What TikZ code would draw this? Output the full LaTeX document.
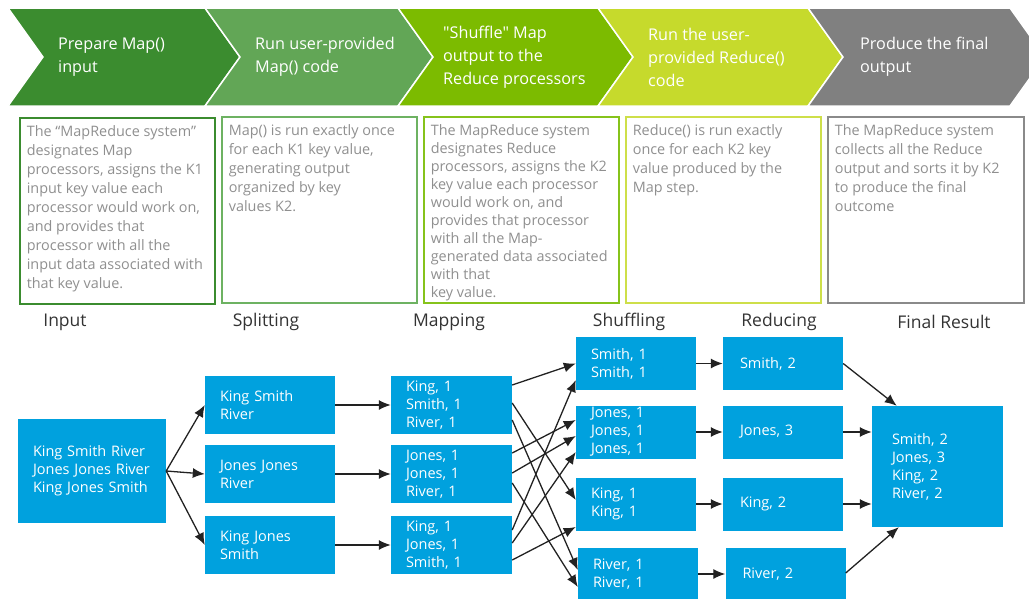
\documentclass[tikz,border=0pt]{standalone}
\usepackage{fontspec}
\setmainfont{Open Sans}[Ligatures=TeXOff]
\usepackage{tikz}
\usetikzlibrary{positioning,arrows.meta}

\definecolor{chevA}{HTML}{3B8C2F}
\definecolor{chevB}{HTML}{62A656}
\definecolor{chevC}{HTML}{7CBB00}
\definecolor{chevD}{HTML}{C6DA2C}
\definecolor{chevE}{HTML}{808080}
\definecolor{boxA}{HTML}{3B8C2F}
\definecolor{boxB}{HTML}{6DB262}
\definecolor{boxC}{HTML}{86C31B}
\definecolor{boxD}{HTML}{CEDF4A}
\definecolor{boxE}{HTML}{8A8A8A}
\definecolor{flowblue}{HTML}{00A1DE}
\definecolor{greytext}{HTML}{8F8F8F}
\definecolor{labeltext}{HTML}{333333}
\definecolor{arrowcol}{HTML}{222222}

\begin{document}
\begin{tikzpicture}[x=1pt,y=-1pt,>={Latex[length=12pt,width=10pt]},on grid,
  chev/.style={draw=white,line width=1.5pt},
  chevtext/.style={anchor=west,align=left,inner sep=0pt,text=white,font=\fontsize{16.2}{23}\selectfont},
  desc/.style={anchor=north west,line width=1.6pt,inner xsep=7pt,inner ysep=8pt,text=greytext,font=\fontsize{14.4}{19}\selectfont},
  stage/.style={text=labeltext,font=\fontsize{17.5}{20}\selectfont},
  blk/.style={fill=flowblue,text=white,align=left,inner xsep=15pt,inner ysep=0pt,font=\fontsize{14.5}{18}\selectfont},
  inbox/.style={blk,text width=118pt,minimum height=104pt},
  splitbox/.style={blk,text width=100pt,minimum height=58pt},
  mapbox/.style={blk,text width=91pt,minimum height=58pt},
  shufbox/.style={blk,text width=90pt,minimum height=53pt},
  redbox/.style={blk,inner xsep=17pt,text width=86pt,minimum height=53pt},
  finbox/.style={blk,inner xsep=20pt,text width=91pt,minimum height=121pt},
  flow/.style={->,line width=1.3pt,color=arrowcol}]
  \useasboundingbox (0,0) rectangle (1029,598);

  % chevrons
  \filldraw[chev,fill=chevA] (8,8) -- (205,8) -- (240,57) -- (205,106) -- (8,106) -- (43,57) -- cycle;
  \filldraw[chev,fill=chevB] (205,8) -- (398,8) -- (433,57) -- (398,106) -- (205,106) -- (240,57) -- cycle;
  \filldraw[chev,fill=chevC] (398,8) -- (598,8) -- (633,57) -- (598,106) -- (398,106) -- (433,57) -- cycle;
  \filldraw[chev,fill=chevD] (598,8) -- (808,8) -- (843,57) -- (808,106) -- (598,106) -- (633,57) -- cycle;
  \filldraw[chev,fill=chevE] (808,8) -- (1010,8) -- (1045,57) -- (1010,106) -- (808,106) -- (843,57) -- cycle;
  \node[chevtext] (c1) at (58,57) {Prepare Map()\\input};
  \node[chevtext] (c2) at (255,57) {Run user-provided\\Map() code};
  \node[chevtext] (c3) at (443,57) {"Shuffle" Map\\output to the\\Reduce processors};
  \node[chevtext] (c4) at (648,57) {Run the user-\\provided Reduce()\\code};
  \node[chevtext] (c5) at (860,57) {Produce the final\\output};

  % descriptions
  \node[desc,draw=boxA] (d1) at (19,117) {\parbox[t][170pt][t]{181pt}{\raggedright
    The “MapReduce system”\\designates Map\\processors, assigns the K1\\input key value each\\processor would work on,\\and provides that\\processor with all the\\input data associated with\\that key value.}};
  \node[desc,draw=boxB] (d2) at (221,116) {\parbox[t][170pt][t]{181pt}{\raggedright
    Map() is run exactly once\\for each K1 key value,\\generating output\\organized by key\\values K2.}};
  \node[desc,draw=boxC,font=\fontsize{14.4}{18}\selectfont] (d3) at (423,116) {\parbox[t][170pt][t]{181pt}{\raggedright
    The MapReduce system\\designates Reduce\\processors, assigns the K2\\key value each processor\\would work on, and\\provides that processor\\with all the Map-\\generated data associated\\with that\\key value.}};
  \node[desc,draw=boxD] (d4) at (625,116) {\parbox[t][170pt][t]{181pt}{\raggedright
    Reduce() is run exactly\\once for each K2 key\\value produced by the\\Map step.}};
  \node[desc,draw=boxE] (d5) at (827,116) {\parbox[t][170pt][t]{182pt}{\raggedright
    The MapReduce system\\collects all the Reduce\\output and sorts it by K2\\to produce the final\\outcome}};

  % stage labels
  \node[stage] (lin)  at (65,322)  {Input};
  \node[stage] (lspl) at (266,322) {Splitting};
  \node[stage] (lmap) at (449,322) {Mapping};
  \node[stage] (lshf) at (629,322) {Shuffling};
  \node[stage] (lred) at (779,322) {Reducing};
  \node[stage] (lfin) at (944,322) {Final Result};

  % flow
  \node[inbox] (in) at (92,471) {King Smith River\\Jones Jones River\\King Jones Smith};
  \node[splitbox] (sa) at (270,405) {King Smith\\River};
  \node[splitbox] (sb) [below=69pt of sa] {Jones Jones\\River};
  \node[splitbox] (sc) [below=71pt of sb] {King Jones\\Smith};
  \node[mapbox] (ma) [right=181.5pt of sa] {King, 1\\Smith, 1\\River, 1};
  \node[mapbox] (mb) [right=181.5pt of sb] {Jones, 1\\Jones, 1\\River, 1};
  \node[mapbox] (mc) [right=181.5pt of sc] {King, 1\\Jones, 1\\Smith, 1};
  \node[shufbox] (sh1) at (636,363.5) {Smith, 1\\Smith, 1};
  \node[shufbox] (sh2) [below=68.5pt of sh1] {Jones, 1\\Jones, 1\\Jones, 1};
  \node[shufbox] (sh3) [below=72pt of sh2] {King, 1\\King, 1};
  \node[shufbox] (sh4) at (638,574) {River, 1\\River, 1};
  \node[redbox] (rd1) [right=147pt of sh1] {Smith, 2};
  \node[redbox] (rd2) [right=147pt of sh2] {Jones, 3};
  \node[redbox] (rd3) [right=147pt of sh3] {King, 2};
  \node[redbox] (rd4) at (785.5,574) {River, 2};
  \node[finbox] (fin) at (937.5,466.5) {Smith, 2\\Jones, 3\\King, 2\\River, 2};

  \path[flow]
    (in.east) edge (sa.west)
    (in.east) edge (sb.west)
    (in.east) edge (sc.west)
    (sa) edge (ma)
    (sb) edge (mb)
    (sc) edge (mc)
    ([yshift=20pt]ma.east) edge (sh1.west)
    ([yshift=2pt]ma.east) edge ([yshift=4pt]sh3.west)
    ([yshift=-15pt]ma.east) edge ([yshift=4pt]sh4.west)
    ([yshift=21pt]mb.east) edge ([yshift=12pt]sh2.west)
    ([yshift=1pt]mb.east) edge ([yshift=-4pt]sh2.west)
    ([yshift=-9pt]mb.east) edge ([yshift=-13pt]sh4.west)
    ([yshift=15pt]mc.east) edge ([yshift=-16.5pt]sh1.west)
    ([yshift=2pt]mc.east) edge ([yshift=-20pt]sh2.west)
    ([yshift=-15pt]mc.east) edge ([yshift=-23pt]sh3.west)
    (sh1) edge (rd1)
    (sh2) edge (rd2)
    (sh3) edge (rd3)
    (sh4) edge (rd4)
    (rd1.east) edge ([xshift=25pt]fin.north west)
    (rd2) edge (rd2 -| fin.west)
    (rd3) edge (rd3 -| fin.west)
    ([yshift=1pt]rd4.east) edge ([xshift=27pt]fin.south west);
\end{tikzpicture}
\end{document}
